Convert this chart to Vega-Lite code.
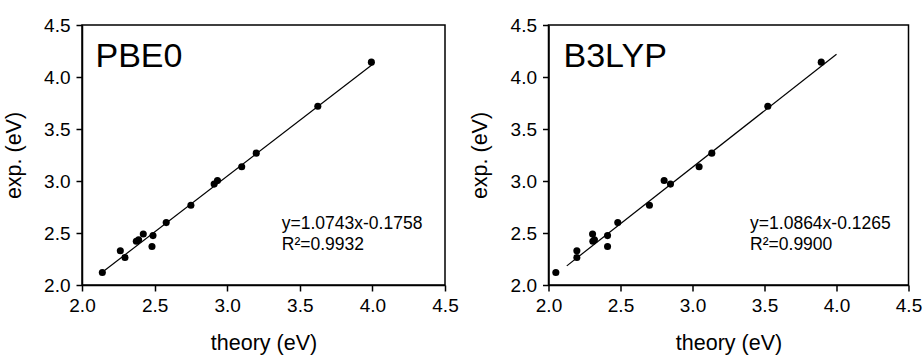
{
  "$schema": "https://vega.github.io/schema/vega-lite/v6.json",
  "background": "white",
  "padding": {"left": 2, "top": 15, "right": 0, "bottom": 0},
  "datasets": {
    "pbe0": [
      {"theory": 2.14, "exp": 2.12},
      {"theory": 2.264, "exp": 2.33},
      {"theory": 2.296, "exp": 2.265},
      {"theory": 2.374, "exp": 2.42},
      {"theory": 2.39, "exp": 2.435},
      {"theory": 2.422, "exp": 2.49},
      {"theory": 2.489, "exp": 2.475},
      {"theory": 2.482, "exp": 2.37},
      {"theory": 2.58, "exp": 2.6},
      {"theory": 2.75, "exp": 2.767},
      {"theory": 2.91, "exp": 2.97},
      {"theory": 2.933, "exp": 3.005},
      {"theory": 3.1, "exp": 3.137},
      {"theory": 3.2, "exp": 3.268},
      {"theory": 3.624, "exp": 3.718},
      {"theory": 3.993, "exp": 4.143}
    ],
    "b3lyp": [
      {"theory": 2.051, "exp": 2.12},
      {"theory": 2.197, "exp": 2.33},
      {"theory": 2.197, "exp": 2.265},
      {"theory": 2.306, "exp": 2.49},
      {"theory": 2.308, "exp": 2.42},
      {"theory": 2.319, "exp": 2.435},
      {"theory": 2.41, "exp": 2.475},
      {"theory": 2.41, "exp": 2.37},
      {"theory": 2.481, "exp": 2.6},
      {"theory": 2.701, "exp": 2.767},
      {"theory": 2.803, "exp": 3.005},
      {"theory": 2.847, "exp": 2.97},
      {"theory": 3.046, "exp": 3.137},
      {"theory": 3.134, "exp": 3.268},
      {"theory": 3.523, "exp": 3.718},
      {"theory": 3.894, "exp": 4.143}
    ],
    "pbe0fit": [
      {"theory": 2.126, "exp": 2.108},
      {"theory": 4.0, "exp": 4.121}
    ],
    "b3lypfit": [
      {"theory": 2.127, "exp": 2.184},
      {"theory": 4.0, "exp": 4.219}
    ]
  },
  "config": {
    "font": "Liberation Sans",
    "view": {"stroke": "black", "strokeWidth": 1.5},
    "axis": {
      "labelFont": "Liberation Sans",
      "labelFontSize": 19,
      "labelColor": "black",
      "titleFont": "Liberation Sans",
      "titleFontSize": 21.5,
      "titleFontWeight": "normal",
      "titleColor": "black",
      "tickColor": "black",
      "tickSize": 6,
      "tickWidth": 1.5,
      "domainColor": "black",
      "domainWidth": 1.5,
      "grid": false,
      "labelFlush": false
    },
    "axisX": {"labelPadding": 5, "titlePadding": 17},
    "axisY": {"labelPadding": 6, "titlePadding": 18.5},
    "concat": {"spacing": 103.5}
  },
  "bounds": "flush",
  "hconcat": [
    {
      "width": 363,
      "height": 260,
      "layer": [
        {
          "data": {"name": "pbe0fit"},
          "mark": {"type": "line", "color": "black", "strokeWidth": 1.2},
          "encoding": {
            "x": {"field": "theory", "type": "quantitative", "scale": {"domain": [2, 4.5], "nice": false, "zero": false}, "axis": {"title": "theory (eV)", "values": [2, 2.5, 3, 3.5, 4, 4.5], "format": ".1f"}},
            "y": {"field": "exp", "type": "quantitative", "scale": {"domain": [2, 4.5], "nice": false, "zero": false}, "axis": {"title": "exp. (eV)", "values": [2, 2.5, 3, 3.5, 4, 4.5], "format": ".1f"}}
          }
        },
        {
          "data": {"name": "pbe0"},
          "mark": {"type": "circle", "color": "black", "opacity": 1, "size": 50},
          "encoding": {
            "x": {"field": "theory", "type": "quantitative"},
            "y": {"field": "exp", "type": "quantitative"}
          }
        },
        {
          "data": {"values": [{"label": "PBE0"}]},
          "mark": {"type": "text", "align": "left", "baseline": "alphabetic", "fontSize": 34, "color": "black"},
          "encoding": {"text": {"field": "label"}, "x": {"datum": 2.093}, "y": {"datum": 4.1}}
        },
        {
          "data": {"values": [{"label": "y=1.0743x-0.1758"}]},
          "mark": {"type": "text", "align": "left", "baseline": "alphabetic", "fontSize": 17.5, "color": "black"},
          "encoding": {"text": {"field": "label"}, "x": {"datum": 3.376}, "y": {"datum": 2.536}}
        },
        {
          "data": {"values": [{"label": "R²=0.9932"}]},
          "mark": {"type": "text", "align": "left", "baseline": "alphabetic", "fontSize": 17.5, "color": "black"},
          "encoding": {"text": {"field": "label"}, "x": {"datum": 3.376}, "y": {"datum": 2.334}}
        }
      ]
    },
    {
      "width": 360,
      "height": 260,
      "layer": [
        {
          "data": {"name": "b3lypfit"},
          "mark": {"type": "line", "color": "black", "strokeWidth": 1.2},
          "encoding": {
            "x": {"field": "theory", "type": "quantitative", "scale": {"domain": [2, 4.5], "nice": false, "zero": false}, "axis": {"title": "theory (eV)", "values": [2, 2.5, 3, 3.5, 4, 4.5], "format": ".1f"}},
            "y": {"field": "exp", "type": "quantitative", "scale": {"domain": [2, 4.5], "nice": false, "zero": false}, "axis": {"title": "exp. (eV)", "values": [2, 2.5, 3, 3.5, 4, 4.5], "format": ".1f"}}
          }
        },
        {
          "data": {"name": "b3lyp"},
          "mark": {"type": "circle", "color": "black", "opacity": 1, "size": 50},
          "encoding": {
            "x": {"field": "theory", "type": "quantitative"},
            "y": {"field": "exp", "type": "quantitative"}
          }
        },
        {
          "data": {"values": [{"label": "B3LYP"}]},
          "mark": {"type": "text", "align": "left", "baseline": "alphabetic", "fontSize": 34, "color": "black"},
          "encoding": {"text": {"field": "label"}, "x": {"datum": 2.104}, "y": {"datum": 4.1}}
        },
        {
          "data": {"values": [{"label": "y=1.0864x-0.1265"}]},
          "mark": {"type": "text", "align": "left", "baseline": "alphabetic", "fontSize": 17.5, "color": "black"},
          "encoding": {"text": {"field": "label"}, "x": {"datum": 3.4}, "y": {"datum": 2.536}}
        },
        {
          "data": {"values": [{"label": "R²=0.9900"}]},
          "mark": {"type": "text", "align": "left", "baseline": "alphabetic", "fontSize": 17.5, "color": "black"},
          "encoding": {"text": {"field": "label"}, "x": {"datum": 3.4}, "y": {"datum": 2.334}}
        }
      ]
    }
  ]
}
